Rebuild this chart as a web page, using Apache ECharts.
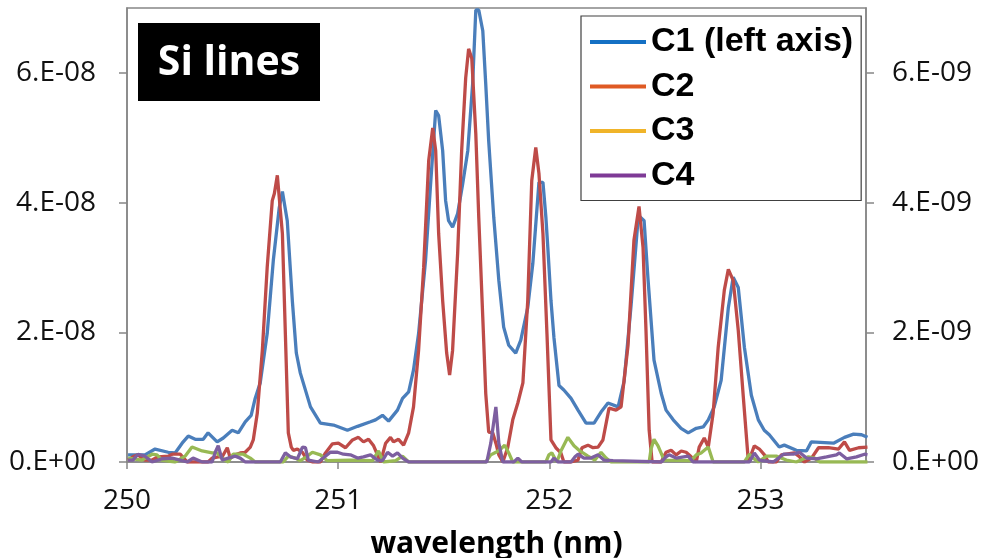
<!DOCTYPE html>
<html>
<head>
<meta charset="utf-8">
<script src="https://cdn.jsdelivr.net/npm/echarts@6/dist/echarts.min.js"></script>
<style>html,body{margin:0;padding:0;background:#fff}#chart{width:982px;height:558px}</style>
</head>
<body>
<div id="chart"></div>
<script>
// Tick labels
const xTicks = [250, 251, 252, 253];
const yTicks = [0, 2, 4, 6];
const seriesNames = ['C1 (left axis)', 'C2', 'C3', 'C4'];

// C1 (left axis, units of 1e-8): [wavelength nm, value]
const c1Data = [[250.005,0.11],[250.085,0.11],[250.133,0.20],[250.195,0.15],[250.228,0.14],[250.261,0.29],[250.290,0.40],[250.323,0.35],[250.361,0.35],[250.384,0.45],[250.427,0.31],[250.456,0.37],[250.498,0.49],[250.527,0.45],[250.560,0.62],[250.588,0.72],[250.607,0.98],[250.631,1.22],[250.664,1.98],[250.693,3.11],[250.721,3.92],[250.736,4.17],[250.745,4.17],[250.759,3.72],[250.783,2.49],[250.802,1.68],[250.821,1.37],[250.869,0.85],[250.916,0.60],[250.978,0.57],[251.044,0.49],[251.092,0.55],[251.153,0.62],[251.177,0.65],[251.210,0.72],[251.239,0.63],[251.281,0.80],[251.305,0.98],[251.334,1.08],[251.357,1.42],[251.381,1.98],[251.414,3.11],[251.438,4.29],[251.462,5.42],[251.476,5.34],[251.495,4.80],[251.509,4.03],[251.523,3.72],[251.542,3.62],[251.566,3.83],[251.590,4.29],[251.614,4.80],[251.637,5.83],[251.652,6.97],[251.666,6.97],[251.685,6.65],[251.699,5.83],[251.713,4.95],[251.737,3.77],[251.761,2.80],[251.784,2.08],[251.808,1.80],[251.841,1.68],[251.865,1.88],[251.898,2.38],[251.922,3.06],[251.951,4.31],[251.970,4.31],[251.984,3.77],[251.993,3.31],[252.008,2.49],[252.022,1.92],[252.046,1.18],[252.069,1.11],[252.103,0.98],[252.136,0.80],[252.174,0.60],[252.212,0.60],[252.245,0.77],[252.278,0.91],[252.326,0.85],[252.354,1.24],[252.387,2.40],[252.420,3.72],[252.430,3.78],[252.449,3.72],[252.468,2.80],[252.496,1.57],[252.530,1.06],[252.553,0.80],[252.587,0.65],[252.624,0.52],[252.658,0.45],[252.696,0.52],[252.729,0.54],[252.753,0.65],[252.781,0.85],[252.814,1.26],[252.848,2.38],[252.871,2.85],[252.876,2.88],[252.895,2.69],[252.924,1.77],[252.957,1.03],[252.990,0.65],[253.018,0.49],[253.042,0.42],[253.089,0.23],[253.113,0.26],[253.170,0.18],[253.218,0.17],[253.241,0.31],[253.346,0.29],[253.398,0.38],[253.441,0.43],[253.479,0.42],[253.507,0.38]];

// C2 (right axis, units of 1e-9)
const c2Data = [[250.005,0.03],[250.028,0.08],[250.052,0.11],[250.085,0.03],[250.119,0.03],[250.147,0.08],[250.195,0.09],[250.214,0.12],[250.252,0.12],[250.285,0],[250.337,0],[250.384,0],[250.403,0.06],[250.432,0.08],[250.451,0.08],[250.475,0.22],[250.489,0.06],[250.513,0.11],[250.536,0.14],[250.560,0.15],[250.584,0.23],[250.598,0.34],[250.617,0.75],[250.641,1.72],[250.664,3.00],[250.688,4.03],[250.698,4.14],[250.712,4.42],[250.721,4.08],[250.736,3.52],[250.750,1.98],[250.764,0.45],[250.778,0.23],[250.788,0.18],[250.807,0.20],[250.831,0.15],[250.854,0.03],[250.878,0],[250.916,0],[250.940,0.14],[250.973,0.28],[251.001,0.29],[251.035,0.22],[251.068,0.34],[251.096,0.38],[251.120,0.31],[251.144,0.35],[251.168,0.25],[251.201,0],[251.225,0.29],[251.248,0.38],[251.262,0.31],[251.286,0.35],[251.310,0.26],[251.334,0.45],[251.357,0.85],[251.381,1.72],[251.405,3.00],[251.429,4.65],[251.448,5.15],[251.462,4.80],[251.476,3.52],[251.495,2.49],[251.514,1.68],[251.528,1.34],[251.542,1.72],[251.566,3.22],[251.585,4.80],[251.604,5.92],[251.618,6.37],[251.633,6.22],[251.652,5.06],[251.666,3.77],[251.685,2.23],[251.699,1.06],[251.713,0.46],[251.732,0.45],[251.747,0.29],[251.761,0.11],[251.780,0],[251.803,0.22],[251.827,0.65],[251.851,0.91],[251.875,1.22],[251.898,2.49],[251.917,4.34],[251.936,4.85],[251.951,4.45],[251.970,3.52],[251.989,1.98],[252.008,0.34],[252.031,0.22],[252.055,0.14],[252.069,0],[252.103,0],[252.136,0.03],[252.155,0.22],[252.183,0.26],[252.207,0.22],[252.231,0.23],[252.254,0.34],[252.283,0.83],[252.316,0.80],[252.340,0.85],[252.373,1.80],[252.401,3.42],[252.425,3.94],[252.444,3.31],[252.458,2.03],[252.473,0.49],[252.487,0],[252.530,0],[252.553,0.15],[252.577,0.18],[252.601,0.11],[252.625,0.17],[252.648,0.15],[252.672,0.08],[252.696,0],[252.710,0.23],[252.734,0.37],[252.753,0.23],[252.776,0.75],[252.800,1.77],[252.829,2.65],[252.848,2.97],[252.871,2.80],[252.895,2.03],[252.919,1.00],[252.943,0],[252.971,0.25],[252.995,0.20],[253.019,0.11],[253.037,0],[253.075,0],[253.099,0.11],[253.161,0.14],[253.185,0.08],[253.208,0],[253.242,0.06],[253.275,0.22],[253.322,0.22],[253.370,0.20],[253.398,0.31],[253.422,0.18],[253.465,0.22],[253.507,0.23]];

// C3 (right axis, units of 1e-9)
const c3Data = [[250.005,0.06],[250.071,0.03],[250.119,0.12],[250.142,0.11],[250.166,0.03],[250.228,0],[250.275,0.09],[250.308,0.23],[250.356,0.17],[250.403,0.14],[250.427,0.14],[250.451,0.06],[250.479,0],[250.503,0.12],[250.551,0.12],[250.584,0.06],[250.607,0],[250.740,0],[250.764,0.09],[250.797,0.06],[250.821,0.02],[250.850,0.08],[250.878,0.15],[250.916,0.11],[250.949,0.02],[251.058,0.03],[251.163,0.02],[251.191,0.17],[251.215,0],[251.272,0.02],[251.305,0.09],[251.334,0],[251.699,0],[251.723,0.11],[251.747,0.15],[251.770,0.20],[251.789,0.26],[251.808,0.14],[251.827,0],[251.984,0],[251.998,0.11],[252.012,0.14],[252.036,0],[252.055,0.17],[252.088,0.38],[252.117,0.25],[252.145,0.17],[252.183,0.09],[252.216,0.03],[252.245,0.15],[252.269,0.06],[252.292,0],[252.473,0],[252.482,0.20],[252.496,0.35],[252.515,0.25],[252.544,0.03],[252.672,0.02],[252.696,0.11],[252.719,0.14],[252.753,0.23],[252.776,0],[252.924,0],[252.948,0.12],[252.966,0.06],[252.990,0],[253.028,0.09],[253.075,0.09],[253.123,0.03],[253.170,0],[253.227,0.08],[253.256,0.06],[253.280,0],[253.507,0]];

// C4 (right axis, units of 1e-9)
const c4Data = [[250.005,0.03],[250.028,0.03],[250.052,0.12],[250.085,0.09],[250.119,0],[250.166,0.05],[250.214,0.06],[250.252,0.03],[250.285,0],[250.313,0.06],[250.356,0],[250.403,0],[250.418,0.15],[250.432,0.25],[250.451,0.03],[250.479,0.06],[250.513,0.09],[250.536,0.06],[250.560,0],[250.726,0],[250.750,0.14],[250.774,0.08],[250.807,0.05],[250.831,0.23],[250.845,0.22],[250.859,0.03],[250.906,0],[250.963,0.15],[250.997,0.15],[251.025,0.12],[251.058,0.11],[251.092,0.06],[251.120,0.08],[251.153,0.11],[251.187,0.03],[251.210,0.02],[251.234,0.15],[251.258,0.09],[251.281,0.14],[251.305,0.06],[251.334,0],[251.704,0],[251.723,0.29],[251.747,0.85],[251.761,0.29],[251.780,0],[251.832,0],[251.851,0.06],[251.870,0],[252.008,0],[252.022,0.06],[252.041,0],[252.103,0],[252.122,0.08],[252.136,0.12],[252.164,0.06],[252.197,0.06],[252.231,0.11],[252.259,0.03],[252.302,0.02],[252.530,0],[252.553,0.08],[252.567,0.11],[252.601,0.06],[252.658,0.09],[252.681,0],[252.948,0],[252.971,0.14],[252.995,0.03],[253.061,0],[253.109,0.12],[253.156,0.12],[253.185,0.15],[253.218,0.06],[253.265,0.05],[253.313,0.08],[253.360,0.11],[253.374,0.14],[253.408,0.05],[253.455,0.08],[253.493,0.12],[253.507,0.11]];

const lineColors = ['#4A7EBB', '#BE4B48', '#98B954', '#7D5FA0'];
const legendColors = ['#1470C4', '#DF5A24', '#F0B429', '#7E3A96'];

const axisGray = '#868686';
const labelFont = { fontFamily: 'Open Sans', fontSize: 28, color: '#111' };

const chart = echarts.init(document.getElementById('chart'), null, { renderer: 'canvas' });
const allData = [c1Data, c2Data, c3Data, c4Data];

chart.setOption({
  animation: false,
  backgroundColor: '#fff',
  grid: { left: 127, right: 116, top: 8, bottom: 96, show: true, borderColor: axisGray, borderWidth: 1.5, containLabel: false, outerBoundsMode: 'none' },
  xAxis: {
    type: 'value', min: 250, max: 253.5, interval: 1,
    name: 'wavelength (nm)', nameLocation: 'middle', nameGap: 67,
    nameTextStyle: { fontFamily: 'Open Sans', fontWeight: 'bold', fontSize: 30, color: '#000' },
    axisLine: { show: true, onZero: false, lineStyle: { color: axisGray, width: 1.5 } },
    axisTick: { show: true, inside: false, length: 7, lineStyle: { color: axisGray, width: 1.5 }, customValues: xTicks },
    axisLabel: Object.assign({ margin: 25, customValues: xTicks }, labelFont),
    splitLine: { show: false }
  },
  yAxis: [
    {
      type: 'value', min: 0, max: 7, interval: 2, position: 'left',
      axisLine: { show: true, lineStyle: { color: axisGray, width: 1.5 } },
      axisTick: { show: true, length: 8, lineStyle: { color: axisGray, width: 1.5 }, customValues: yTicks },
      axisLabel: Object.assign({ margin: 31, customValues: yTicks, formatter: v => v === 0 ? '0.E+00' : v + '.E-08' }, labelFont),
      splitLine: { show: false }
    },
    {
      type: 'value', min: 0, max: 7, interval: 2, position: 'right',
      axisLine: { show: true, lineStyle: { color: axisGray, width: 1.5 } },
      axisTick: { show: true, length: 8, lineStyle: { color: axisGray, width: 1.5 }, customValues: yTicks },
      axisLabel: Object.assign({ margin: 26, customValues: yTicks, formatter: v => v === 0 ? '0.E+00' : v + '.E-09' }, labelFont),
      splitLine: { show: false }
    }
  ],
  legend: {
    orient: 'vertical', left: 581, top: 16,
    padding: [6, 8, 5, 9],
    itemWidth: 56, itemHeight: 4, itemGap: 4.5,
    backgroundColor: '#fff', borderColor: '#404040', borderWidth: 1.2,
    textStyle: { fontFamily: 'Liberation Sans', fontWeight: 'bold', fontSize: 34, lineHeight: 40, color: '#000' },
    data: seriesNames.map((n, i) => ({ name: n, icon: 'rect', itemStyle: { color: legendColors[i] } }))
  },
  graphic: [
    { type: 'rect', left: 138, top: 23, shape: { width: 182, height: 78 }, style: { fill: '#000' }, z: 10 },
    { type: 'text', x: 229, y: 63, z: 11, style: { text: 'Si lines', fill: '#fff', font: 'bold 41px "Open Sans"', textAlign: 'center', textVerticalAlign: 'middle' } }
  ],
  series: seriesNames.map((n, i) => ({
    name: n, type: 'line', yAxisIndex: i === 0 ? 0 : 1,
    data: allData[i], showSymbol: false, symbol: 'none',
    lineStyle: { color: lineColors[i], width: 3.3 },
    itemStyle: { color: lineColors[i] },
    clip: true, z: 2 + i
  }))
});
</script>
</body>
</html>
